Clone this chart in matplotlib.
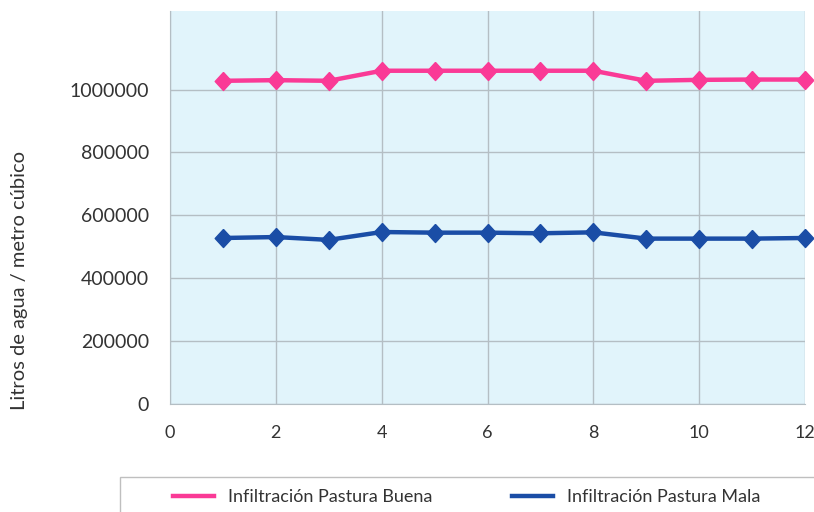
import matplotlib
matplotlib.use('Agg')
import matplotlib.pyplot as plt

# datos
meses = [1, 2, 3, 4, 5, 6, 7, 8, 9, 10, 11, 12]
pastura_buena = [1028000, 1030000, 1028000, 1060000, 1060000, 1060000,
                 1060000, 1060000, 1028000, 1031000, 1032000, 1032000]
pastura_mala = [528000, 531000, 522000, 547000, 545000, 545000,
                543000, 546000, 526000, 526000, 526000, 528000]
etiquetas = ['Infiltración Pastura Buena', 'Infiltración Pastura Mala']
x_ticks = [0, 2, 4, 6, 8, 10, 12]
y_ticks = [0, 200000, 400000, 600000, 800000, 1000000]

plt.rcParams['font.family'] = ['Lato', 'DejaVu Sans']

W, H = 814, 512
fig = plt.figure(figsize=(W / 100, H / 100), dpi=100)
ax = fig.add_axes([170 / W, (H - 404) / H, (805 - 170) / W, (404 - 11) / H])
ax.set_facecolor('#E1F4FB')

rombo = [(0, 1), (0.92, 0), (0, -1), (-0.92, 0), (0, 1)]
l1, = ax.plot(meses, pastura_buena, color='#FA3A96', lw=3.2,
              marker=rombo, markersize=13, label=etiquetas[0], clip_on=False, zorder=3)
l2, = ax.plot(meses, pastura_mala, color='#1A4DA6', lw=3.2,
              marker=rombo, markersize=13, label=etiquetas[1], clip_on=False, zorder=3)

ax.set_xlim(0, 12)
ax.set_ylim(0, 1250000)
ax.set_xticks(x_ticks)
ax.set_yticks(y_ticks)
ax.set_yticklabels([str(v) for v in y_ticks])
ax.grid(True, color='#B4BEC4', lw=1)
ax.set_axisbelow(True)
ax.tick_params(length=0, labelsize=14, colors='#333333')
ax.tick_params(axis='y', pad=15)
ax.tick_params(axis='x', pad=15, labelsize=13)
for s in ['top', 'right']:
    ax.spines[s].set_visible(False)
for s in ['left', 'bottom']:
    ax.spines[s].set_color('#B4BEC4')

fig.text(20 / W, 1 - 280 / H, 'Litros de agua / metro cúbico', rotation=90,
         ha='center', va='center', fontsize=14.5, color='#333333')

# caja de la leyenda (cortada abajo como en el original)
box = plt.Rectangle((120 / W, -0.05), 1.0, (512 - 477) / H + 0.05,
                    transform=fig.transFigure, fill=False, ec='#BFBFBF', lw=1)
fig.add_artist(box)
fig.legend(handles=[l1, l2], loc='center left', bbox_to_anchor=(157 / W, 1 - 497 / H),
           ncol=2, frameon=False, fontsize=13, handlelength=2.27, handletextpad=0.78,
           columnspacing=4.4, labelcolor='#333333')
for h in fig.legends[0].legend_handles:
    h.set_marker('')

fig.savefig('out.png', dpi=100)
